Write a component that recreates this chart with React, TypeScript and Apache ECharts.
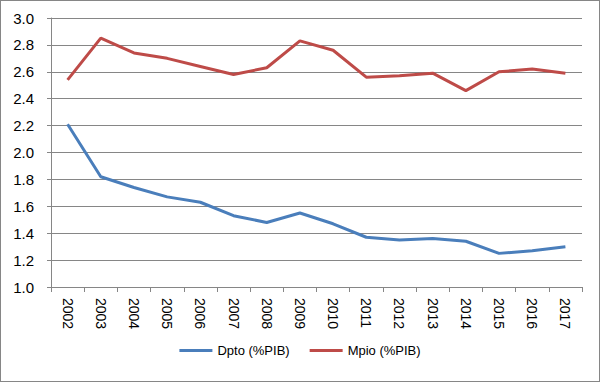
import React, { useEffect, useRef } from "react";
import * as echarts from "echarts";

const years = ["2002","2003","2004","2005","2006","2007","2008","2009","2010","2011","2012","2013","2014","2015","2016","2017"];
const dpto = [2.21, 1.82, 1.74, 1.67, 1.63, 1.53, 1.48, 1.55, 1.47, 1.37, 1.35, 1.36, 1.34, 1.25, 1.27, 1.30];
const mpio = [2.54, 2.85, 2.74, 2.70, 2.64, 2.58, 2.63, 2.83, 2.76, 2.56, 2.57, 2.59, 2.46, 2.60, 2.62, 2.59];

export default function App() {
  const ref = useRef<HTMLDivElement>(null);
  useEffect(() => {
    document.body.style.margin = "0";
    const chart = echarts.init(ref.current!, null, { renderer: "svg" });
    const font = "Liberation Sans";
    chart.setOption({
      animation: false,
      backgroundColor: "#ffffff",
      grid: { left: 51, right: 18, top: 18, bottom: 95, containLabel: false },
      legend: {
        bottom: 20,
        left: "center",
        itemWidth: 33,
        itemHeight: 3,
        itemGap: 20,
        icon: "rect",
        textStyle: { fontFamily: font, fontSize: 13, color: "#000" },
        data: ["Dpto (%PIB)", "Mpio (%PIB)"],
      },
      xAxis: {
        type: "category",
        data: years,
        boundaryGap: true,
        axisLine: { lineStyle: { color: "#868686", width: 1 } },
        axisTick: { show: true, length: 5, lineStyle: { color: "#868686" } },
        axisLabel: { rotate: -90, fontFamily: font, fontSize: 14, color: "#000", margin: 11 },
      },
      yAxis: {
        type: "value",
        min: 1.0,
        max: 3.0,
        interval: 0.2,
        axisLine: { show: true, lineStyle: { color: "#868686", width: 1 } },
        axisTick: { show: true, length: 4, lineStyle: { color: "#868686" } },
        axisLabel: { formatter: (v: number) => v.toFixed(1), fontFamily: font, fontSize: 15, color: "#000", margin: 17 },
        splitLine: { lineStyle: { color: "#868686", width: 1 } },
      },
      series: [
        {
          name: "Dpto (%PIB)",
          type: "line",
          data: dpto,
          symbol: "none",
          lineStyle: { color: "#4A7EBB", width: 3 },
          itemStyle: { color: "#4A7EBB" },
        },
        {
          name: "Mpio (%PIB)",
          type: "line",
          data: mpio,
          symbol: "none",
          lineStyle: { color: "#BE4B48", width: 3 },
          itemStyle: { color: "#BE4B48" },
        },
      ],
    });
    return () => chart.dispose();
  }, []);
  return (
    <div style={{ width: 600, height: 382, position: "relative", boxSizing: "border-box" }}>
      <div ref={ref} style={{ width: 600, height: 382 }} />
      <div style={{ position: "absolute", left: 0, top: 0, width: 598, height: 380, border: "1px solid #868686", pointerEvents: "none" }} />
    </div>
  );
}
